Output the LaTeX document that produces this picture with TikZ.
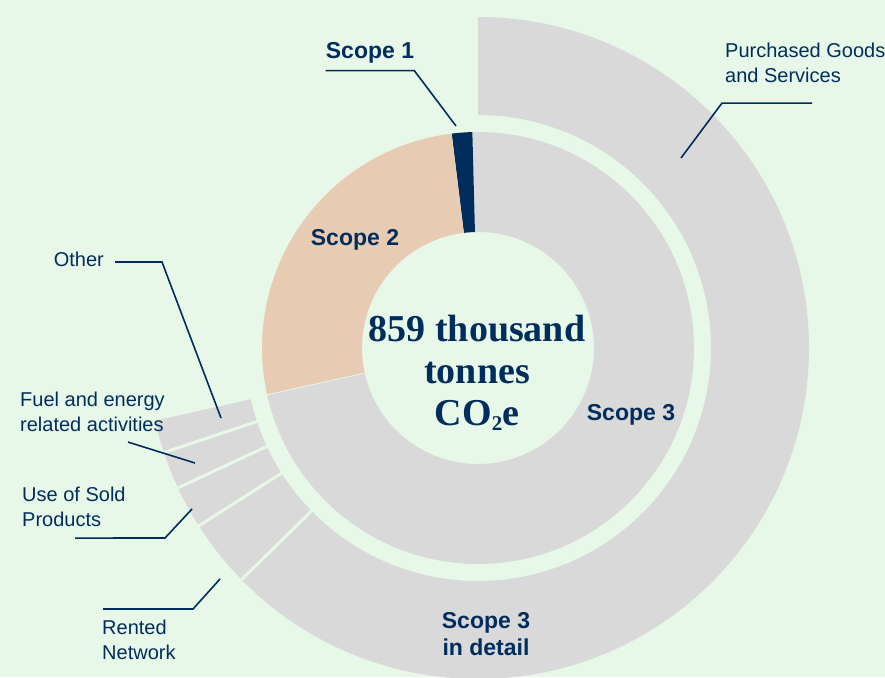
\documentclass[tikz,border=0pt]{standalone}
\usepackage{fontspec}
\setmainfont{Liberation Serif}
\setsansfont{Liberation Sans}

\definecolor{bgmint}{HTML}{E8F8E8}
\definecolor{ringgray}{HTML}{D9D9D9}
\definecolor{peach}{HTML}{E8CBB3}
\definecolor{navy}{HTML}{002D5C}

% radii (pt)
\def\rHole{116pt}
\def\rInner{216pt}
\def\rOuterIn{233pt}
\def\rOuterOut{331pt}

% start/end angle/colour
\def\innerslices{192.5/451.5/ringgray, 91.5/97/navy, 97/192.5/peach}
% Purchased, Rented, Use of Sold, Fuel, Other
\def\outerslices{224.4/450, 212.5/224.4, 205/212.5, 198.4/205, 192.7/198.4}
\def\outercuts{198.4,205,212.5,224.4}

\tikzset{
  leader/.style={draw=navy, line width=1.6pt},
  plaintext/.style={font=\sffamily\fontsize{20}{25}\selectfont, text=navy, inner sep=0pt, align=left},
  scopetext/.style={font=\sffamily\bfseries\fontsize{23}{27}\selectfont, text=navy, inner sep=0pt, align=center},
}

\begin{document}
\begin{tikzpicture}[x=1pt,y=1pt]
\useasboundingbox (0,0) rectangle (885,677);
\fill[bgmint] (0,0) rectangle (885,677);

\begin{scope}[shift={(478,329)}]
  % inner ring
  \foreach \von/\bis/\farbe in \innerslices {
    \fill[\farbe] (\von:\rHole) arc (\von:\bis:\rHole) -- (\bis:\rInner) arc (\bis:\von:\rInner) -- cycle;
  }
  \draw[bgmint, line width=0.8pt] (192.5:\rHole) -- (192.5:\rInner);

  % outer ring (Scope 3 in detail)
  \foreach \von/\bis in \outerslices {
    \fill[ringgray] (\von:\rOuterIn) arc (\von:\bis:\rOuterIn) -- (\bis:\rOuterOut) arc (\bis:\von:\rOuterOut) -- cycle;
  }
  \foreach \w in \outercuts {
    \draw[bgmint, line width=3pt] (\w:230pt) -- (\w:334pt);
  }
\end{scope}

% centre
\node[font=\bfseries\fontsize{38}{42}\selectfont, text=navy, align=center, inner sep=0pt] (total) at (477,304) {859 thousand\\tonnes\\CO{\fontsize{21}{21}\selectfont\raisebox{-5pt}{2}}e};

% scopes
\node[scopetext] (scope1) at (370,624) {Scope 1};
\node[scopetext] (scope2) at (355,437) {Scope 2};
\node[scopetext] (scope3) at (631,262) {Scope 3};
\node[scopetext] (scope3detail) at (486,43) {Scope 3\\in detail};

% categories
\node[plaintext, anchor=north west] (purchased) at (725,634) {Purchased Goods\\and Services};
\node[plaintext, anchor=east] (other) at (104,418) {Other};
\node[plaintext, anchor=north west] (fuel) at (20,285) {Fuel and energy\\related activities};
\node[plaintext, anchor=north west] (usesold) at (22,190) {Use of Sold\\Products};
\node[plaintext, anchor=north west] (rented) at (102,57) {Rented\\Network};

% leader lines
\coordinate (scope1Tip) at (456,551);
\coordinate (purchasedTip) at (681,519);
\coordinate (otherBend) at (162,415);
\coordinate (otherTip) at (221,259);
\coordinate (fuelTip) at (195,214);
\coordinate (usesoldBend) at (165,139);
\coordinate (usesoldTip) at (192,168);
\coordinate (rentedBend) at (193,68);
\coordinate (rentedTip) at (220,98);

\draw[leader] ([yshift=-7pt]scope1.south west) -- ([yshift=-7pt]scope1.south east) -- (scope1Tip);
\draw[leader] ([shift={(87pt,-20pt)}]purchased.south west) -- ([shift={(-3pt,-20pt)}]purchased.south west) -- (purchasedTip);
\draw[leader] ([xshift=11pt,yshift=-3pt]other.east) -- (otherBend) -- (otherTip);
\draw[leader] ([shift={(108pt,-10pt)}]fuel.south west) -- (fuelTip);
\draw[leader] ([shift={(53pt,-11pt)}]usesold.south west) -- (usesoldBend) -- (usesoldTip);
\draw[leader] ([shift={(1pt,11pt)}]rented.north west) -- (rentedBend) -- (rentedTip);

\end{tikzpicture}
\end{document}
